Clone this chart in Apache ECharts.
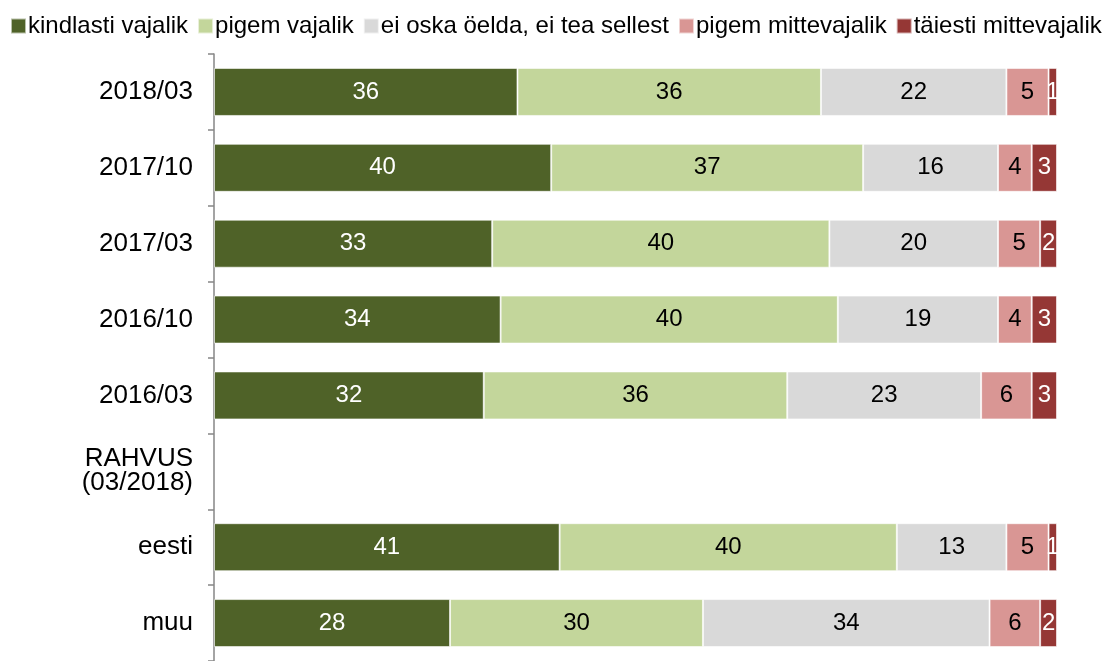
<!DOCTYPE html>
<html><head><meta charset="utf-8">
<script src="https://cdn.jsdelivr.net/npm/echarts@6/dist/echarts.min.js"></script>
<style>html,body{margin:0;padding:0;background:#fff}#c{width:1106px;height:661px}</style>
</head><body><div id="c"></div>
<script>
const categories = ['2018/03','2017/10','2017/03','2016/10','2016/03','RAHVUS\n(03/2018)','eesti','muu'];
const seriesNames = ['kindlasti vajalik','pigem vajalik','ei oska öelda, ei tea sellest','pigem mittevajalik','täiesti mittevajalik'];
const kindlasti = [36,40,33,34,32,null,41,28];
const pigemVaj = [36,37,40,40,36,null,40,30];
const eiOska = [22,16,20,19,23,null,13,34];
const pigemMitte = [5,4,5,4,6,null,5,6];
const taiesti = [1,3,2,3,3,null,1,2];
const colors = ['#4F6228','#C3D69B','#D9D9D9','#D99694','#953735'];
const labelColors = ['#fff','#000','#000','#000','#fff'];
const values = [kindlasti,pigemVaj,eiOska,pigemMitte,taiesti];
const font = 'Liberation Sans, Arial, sans-serif';
const chart = echarts.init(document.getElementById('c'));
chart.setOption({
  animation:false,
  color:colors,
  legend:{top:14,left:10,padding:0,itemWidth:15,itemHeight:15,itemGap:9,icon:'rect',
    textStyle:{fontSize:24,fontFamily:font,color:'#000',padding:[0,0,0,-3]},
    data:seriesNames},
  grid:{left:214,right:49,top:54,bottom:0,containLabel:false},
  xAxis:{type:'value',min:0,max:100,show:false},
  yAxis:{type:'category',inverse:true,data:categories,
    axisLine:{show:true,lineStyle:{color:'#868686',width:1.5}},
    axisTick:{show:true,length:6,lineStyle:{color:'#868686',width:1.5}},
    axisLabel:{fontSize:26,fontFamily:font,color:'#000',margin:21,lineHeight:24,align:'right'}},
  series: seriesNames.map((n,i)=>({
    name:n,type:'bar',stack:'s',barWidth:48,
    data:values[i],
    itemStyle:{color:colors[i],borderColor:'rgba(255,255,255,0.6)',borderWidth:1},
    label:{show:true,position:'inside',fontSize:24,fontFamily:font,color:labelColors[i],
      formatter:p=>p.value==null?'':p.value}
  }))
});
</script></body></html>
